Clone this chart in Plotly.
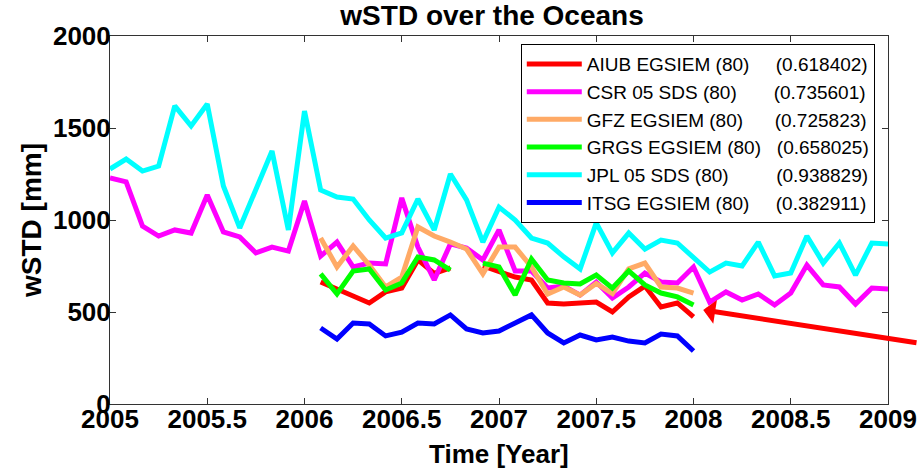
import plotly.graph_objects as go

# Time axis (decimal years, monthly)
months_all = [2005.000, 2005.083, 2005.167, 2005.250, 2005.333, 2005.417, 2005.500, 2005.583,
              2005.667, 2005.750, 2005.833, 2005.917, 2006.000, 2006.083, 2006.167, 2006.250,
              2006.333, 2006.417, 2006.500, 2006.583, 2006.667, 2006.750, 2006.833, 2006.917,
              2007.000, 2007.083, 2007.167, 2007.250, 2007.333, 2007.417, 2007.500, 2007.583,
              2007.667, 2007.750, 2007.833, 2007.917, 2008.000, 2008.083, 2008.167, 2008.250,
              2008.333, 2008.417, 2008.500, 2008.583, 2008.667, 2008.750, 2008.833, 2008.917,
              2009.000]
months_eg = months_all[13:37]   # 2006.083 .. 2008.0

aiub = [663, 625, 582, 549, 609, 630, 783, 710, 740, None, 750,
        717, 690, 674, 549, 543, 549, 554, 500, 582, 641, 527, 549, 473]
csr = [1228, 1207, 967, 913, 946, 929, 1136, 935, 908, 821, 853, 831,
       1103, 804, 880, 745, 766, 761, 1120, 853, 674, 870, 848, 783,
       946, 723, 723, 630, 641, 592, 663, 576, 636, 712, 663, 658,
       745, 554, 609, 565, 598, 538, 603, 755, 647, 636, 543, 630, 625]
gfz = [902, 745, 859, 755, 636, 690, 962, 913, 880, 842, 707,
       853, 853, 745, 598, 636, 592, 655, 600, 734, 766, 636, 630, 603]
grgs = [707, 598, 723, 734, 620, 658, 799, 783, 728, None, 766,
        745, 592, 788, 674, 658, 652, 701, 630, 723, 647, 603, 582, 538]
jpl = [1277, 1331, 1266, 1293, 1620, 1511, 1630, 1185, 957, 1165, 1375, 946,
       1592, 1163, 1125, 1114, 1000, 902, 930, 1114, 946, 1250, 1109, 880,
       1070, 1000, 902, 875, 800, 734, 984, 821, 929, 842, 891, 875,
       800, 717, 766, 750, 880, 696, 712, 913, 766, 875, 701, 875, 870]
itsg = [413, 353, 440, 435, 370, 391, 440, 435, 484, 408, 386,
        397, 440, 484, 386, 332, 375, 348, 364, 342, 332, 380, 370, 288]

labels = ["AIUB EGSIEM (80)", "CSR 05 SDS (80)", "GFZ EGSIEM (80)",
          "GRGS EGSIEM (80)", "JPL 05 SDS (80)", "ITSG EGSIEM (80)"]
corr = ["(0.618402)", "(0.735601)", "(0.725823)", "(0.658025)", "(0.938829)", "(0.382911)"]
colors = ["#FF0000", "#FF00FF", "#FFAA66", "#00FF00", "#00FFFF", "#0000FF"]

x_tick_vals = [2005, 2005.5, 2006, 2006.5, 2007, 2007.5, 2008, 2008.5, 2009]
x_tick_text = ["2005", "2005.5", "2006", "2006.5", "2007", "2007.5", "2008", "2008.5", "2009"]
y_tick_vals = [0, 500, 1000, 1500, 2000]

# approximate Arial widths (per 1000 em) for padding the legend columns
W = {'A': 667, 'I': 278, 'U': 722, 'B': 667, 'E': 667, 'G': 778, 'S': 667, 'M': 833,
     '(': 333, ')': 333, 'C': 722, 'R': 722, 'D': 722, 'F': 611, 'Z': 611, 'L': 556,
     'P': 667, 'T': 611, 'J': 500, ' ': 278, '.': 278}
LEG_FONT = 19


def text_w(s):
    return sum(W.get(c, 556) for c in s) / 1000 * LEG_FONT


target = 188
names = []
for lab, c in zip(labels, corr):
    n = max(1, round((target - text_w(lab)) / (0.278 * LEG_FONT)))
    names.append(lab + "&nbsp;" * n + c)

series = [(months_eg, aiub), (months_all, csr), (months_eg, gfz),
          (months_eg, grgs), (months_all, jpl), (months_eg, itsg)]

fig = go.Figure()
for (xs, ys), nm, col in zip(series, names, colors):
    fig.add_trace(go.Scatter(x=xs, y=ys, mode="lines", name=nm,
                             line=dict(color=col, width=5), connectgaps=False))

fig.add_annotation(x=2008.05, y=511, xref="x", yref="y", text="", showarrow=True,
                   ax=222, ay=33, arrowcolor="#FF0000", arrowwidth=5,
                   arrowhead=1, arrowsize=0.8)

FAM = "Liberation Sans, Arial, sans-serif"
axis_font = dict(family=FAM, size=26, color="black")

# x-axis title placed as an annotation just below the tick labels
fig.add_annotation(x=0.5, y=0, xref="paper", yref="paper", xanchor="center",
                   yanchor="top", yshift=-33, showarrow=False,
                   text="<b>Time [Year]</b>", font=axis_font)

fig.update_layout(
    width=918, height=469,
    margin=dict(l=110, r=30, t=36, b=65, autoexpand=False),
    paper_bgcolor="white", plot_bgcolor="white",
    title=dict(text="<b>wSTD over the Oceans</b>", x=0.536, xanchor="center",
               y=0.988, yanchor="top",
               font=dict(family=FAM, size=28, color="black")),
    font=dict(family=FAM, color="black"),
    showlegend=True,
    legend=dict(x=0.528, y=0.978, xanchor="left", yanchor="top",
                bgcolor="white", bordercolor="black", borderwidth=1,
                font=dict(family=FAM, size=LEG_FONT, color="black"),
                itemwidth=55, tracegroupgap=0),
)
fig.update_xaxes(range=[2005, 2009], tickvals=x_tick_vals,
                 ticktext=["<b>%s</b>" % t for t in x_tick_text],
                 tickfont=axis_font, ticks="inside", ticklen=6, tickcolor="#333333",
                 showline=True, linecolor="#333333", linewidth=1, mirror="ticks",
                 showgrid=False, zeroline=False, automargin=False,
                 ticklabelstandoff=-8)
fig.update_yaxes(range=[0, 2000], tickvals=y_tick_vals,
                 ticktext=["<b>%d</b>" % v for v in y_tick_vals],
                 tickfont=axis_font, ticks="inside", ticklen=6, tickcolor="#333333",
                 showline=True, linecolor="#333333", linewidth=1, mirror="ticks",
                 showgrid=False, zeroline=False, automargin=False,
                 ticklabelstandoff=-7,
                 title=dict(text="<b>wSTD [mm]</b>", font=dict(family=FAM, size=28, color="black"),
                            standoff=3))

fig.write_html("out.html", config={"displayModeBar": False},
               post_script="document.body.style.margin='0';")
